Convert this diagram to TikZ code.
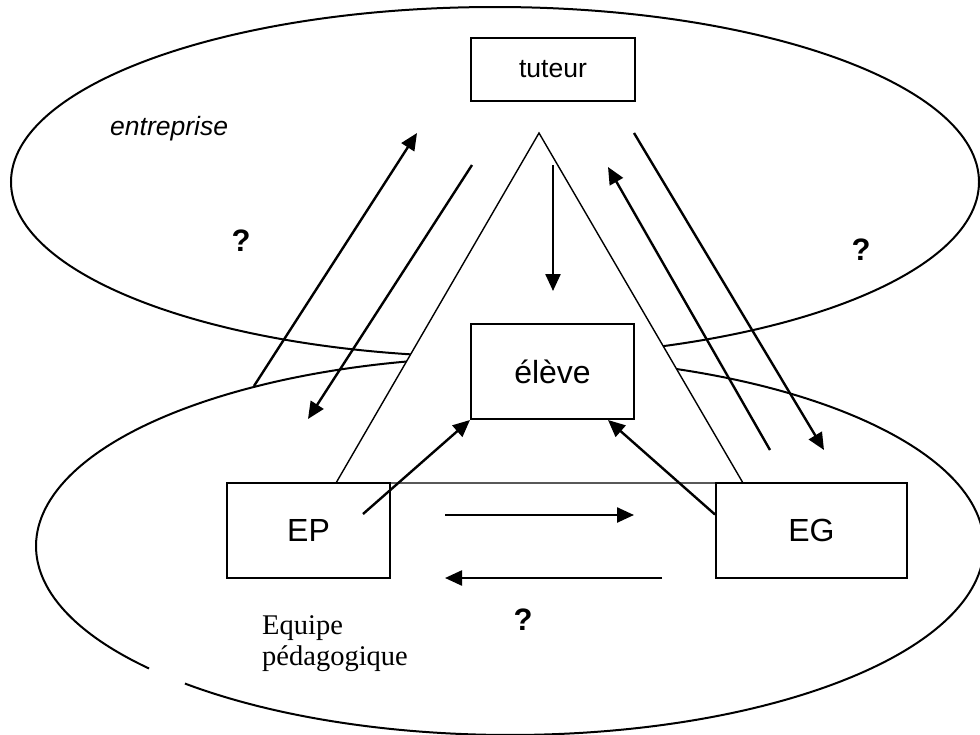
\documentclass[tikz,border=0pt]{standalone}
\usepackage{fontspec}
\setmainfont{Liberation Sans}
\newfontfamily\equipefont{Liberation Serif}
\usetikzlibrary{arrows.meta,calc}
\begin{document}
\begin{tikzpicture}[x=1pt,y=-1pt,
  outline/.style={line width=2pt},
  tri/.style={line width=1.4pt, fill=white},
  box/.style={draw, line width=2pt, fill=white, inner sep=0pt, font=\fontsize{32}{36}\selectfont},
  arr/.style={line width=2.4pt, -{Triangle[length=17pt,width=15pt]}},
  qm/.style={font=\fontsize{31}{34}\selectfont\bfseries}]
\useasboundingbox (0,0) rectangle (980,734);

% ellipses
\draw[outline] (495,182) ellipse [x radius=484, y radius=175];
\draw[outline] (510,546) ++(139.6:474 and 189) arc[start angle=139.6, end angle=493.3, x radius=474, y radius=189];

% triangle (white-filled, hides the ellipse parts)
\draw[tri] (539,133) -- (336,483) -- (743,483) -- cycle;

% boxes
\node[box, minimum width=164pt, minimum height=63pt, font=\fontsize{26.5}{30}\selectfont] (tuteur) at (553,69.5) {tuteur};
\node[box, minimum width=163pt, minimum height=95pt] (eleve) at (552.5,371.5) {élève};
\node[box, minimum width=163pt, minimum height=95pt] (EP) at (308.5,530.5) {EP};
\node[box, minimum width=191pt, minimum height=95pt] (EG) at (811.5,530.5) {EG};

% free ends
\coordinate (l1a) at (254,386);
\coordinate (l1b) at (417,133);
\coordinate (l2a) at (472,165);
\coordinate (l2b) at (308,419);
\coordinate (r1a) at (770,450);
\coordinate (r1b) at (608,167);
\coordinate (r2a) at (634,133);
\coordinate (r2b) at (824,450);
\coordinate (ta) at (553,165);
\coordinate (tb) at (553,291);
\coordinate (epa) at (363,514);
\coordinate (ega) at ($(EG.west)+(0,-16)$);
\coordinate (egb) at ($(eleve.south)+(55.5,0)$);
\coordinate (h1a) at (445,515);
\coordinate (h1b) at (634,515);
\coordinate (h2a) at (662,578);
\coordinate (h2b) at (445,578);

% connectors
\draw[arr] (l1a) -- (l1b);
\draw[arr] (l2a) -- (l2b);
\draw[arr] (r1a) -- (r1b);
\draw[arr] (r2a) -- (r2b);
\draw[arr] (ta) -- (tb);
\draw[arr] (epa) -- (eleve.south west);
\draw[arr] (ega) -- (egb);
\draw[arr] (h1a) -- (h1b);
\draw[arr] (h2a) -- (h2b);

% labels
\node[font=\fontsize{26.5}{30}\selectfont\itshape, anchor=base west, inner sep=0pt] (entr) at (110,135) {entreprise};
\node[qm] (q1) at (241,241) {?};
\node[qm] (q2) at (861,250) {?};
\node[qm] (q3) at (523,620) {?};
\node[font=\equipefont\fontsize{28.5}{31}\selectfont, align=left, anchor=base west, inner sep=0pt] (equipe) at (262,665) {Equipe\\pédagogique};
\end{tikzpicture}
\end{document}
